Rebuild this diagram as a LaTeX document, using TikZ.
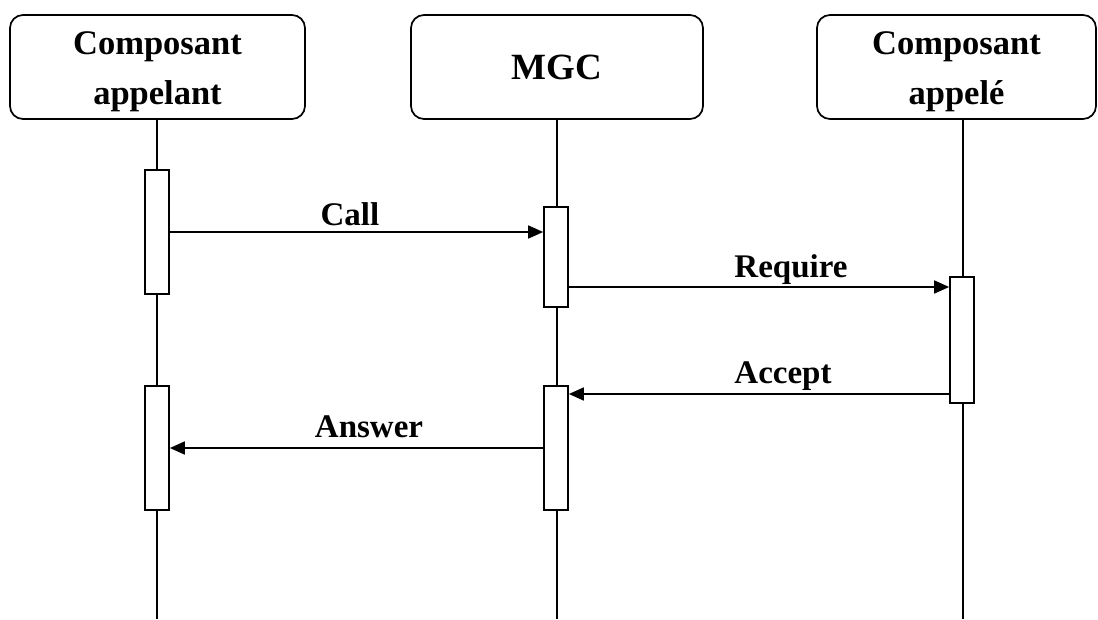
\documentclass[tikz,border=0pt]{standalone}
\usepackage{fontspec}
\setmainfont{Liberation Serif}
\usetikzlibrary{arrows.meta}
\newcommand{\topstrut}{\rule{0pt}{33pt}}
\begin{document}
\begin{tikzpicture}[x=1pt,y=-1pt,
  header/.style={draw, line width=1.7pt, rounded corners=13pt, minimum height=104pt,
    inner sep=0pt, align=center, font=\fontsize{34.5}{50}\selectfont\bfseries},
  act/.style={draw, fill=white, line width=1.7pt, minimum width=24pt, inner sep=0pt},
  life/.style={line width=1.7pt},
  msg/.style={line width=1.7pt, -{Triangle[length=15pt,width=13pt]}},
  lbl/.style={anchor=base, inner sep=0pt, font=\fontsize{33}{36}\selectfont\bfseries}]
\useasboundingbox (0,0) rectangle (1098,619);
% headers
\node[header, minimum width=295pt] (hl) at (157.5,67) {\topstrut Composant\\appelant};
\node[header, minimum width=292pt, font=\fontsize{37}{40}\selectfont\bfseries] (hm) at (557,67) {MGC};
\node[header, minimum width=279pt] (hr) at (956.5,67) {\topstrut Composant\\appelé};
% lifeline ends
\coordinate (bl) at (157,619);
\coordinate (bm) at (557,619);
\coordinate (br) at (963,619);
\draw[life] (hl.south -| bl) -- (bl);
\draw[life] (hm.south -| bm) -- (bm);
\draw[life] (hr.south -| br) -- (br);
% activations
\node[act, minimum height=124pt] (a1) at (157,232) {};
\node[act, minimum height=100pt] (m1) at (556,257) {};
\node[act, minimum height=126pt] (r1) at (962,340) {};
\node[act, minimum height=124pt] (m2) at (556,448) {};
\node[act, minimum height=124pt] (a2) at (157,448) {};
% message levels
\coordinate (y1) at (0,232);
\coordinate (y2) at (0,287);
\coordinate (y3) at (0,394);
\coordinate (y4) at (0,448);
\draw[msg] (a1.east |- y1) -- (m1.west |- y1);
\draw[msg] (m1.east |- y2) -- (r1.west |- y2);
\draw[msg] (r1.west |- y3) -- (m2.east |- y3);
\draw[msg] (m2.west |- y4) -- (a2.east |- y4);
% labels
\node[lbl] (lcall) at (350,225) {Call};
\node[lbl] (lreq) at (791,277) {Require};
\node[lbl] (lacc) at (783,383) {Accept};
\node[lbl] (lans) at (369,437) {Answer};
\end{tikzpicture}
\end{document}
